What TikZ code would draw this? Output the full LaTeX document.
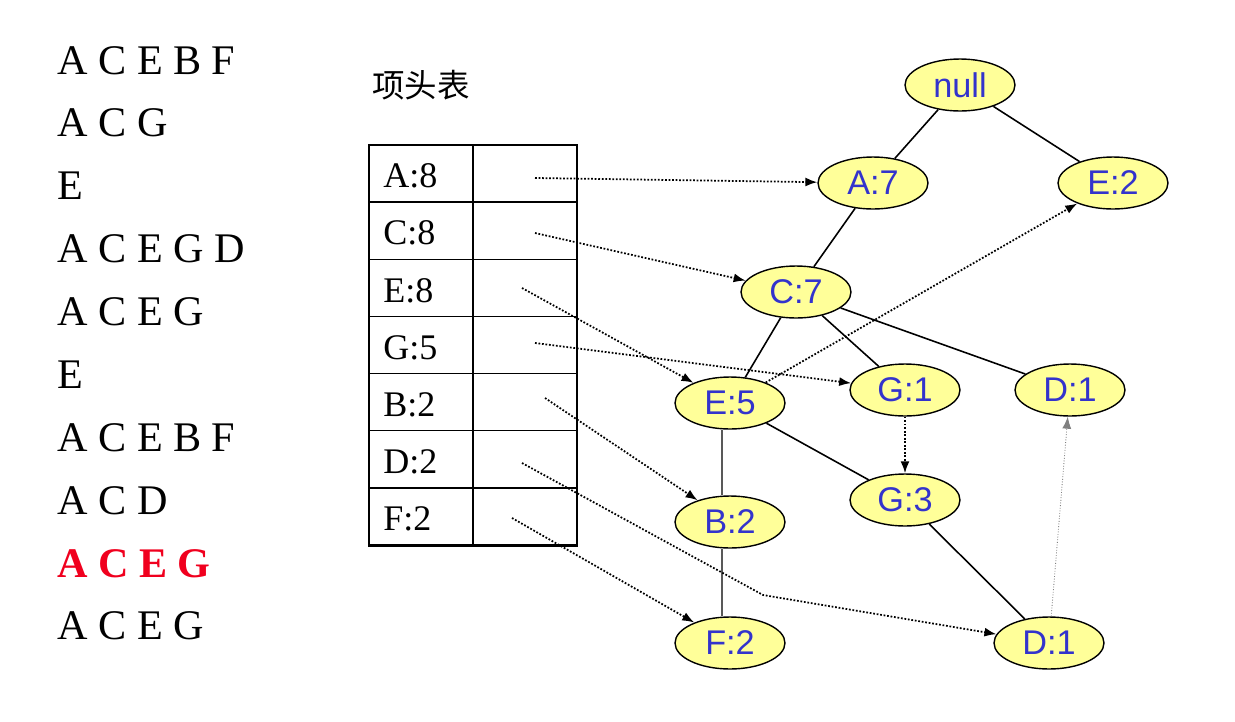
\documentclass[tikz,border=0pt]{standalone}
\usepackage{fontspec}
\setmainfont{Liberation Serif}
\newfontfamily\nodefont{Liberation Sans}
\newfontfamily\cjk{Noto Sans CJK SC}
\usetikzlibrary{shapes.geometric, arrows.meta, positioning}
\definecolor{nodeyellow}{RGB}{255,255,153}
\definecolor{nodeblue}{RGB}{51,51,204}
\definecolor{rowred}{RGB}{240,0,30}

\begin{document}
\begin{tikzpicture}[x=0.02cm, y=-0.02cm,
    tnode/.style={ellipse, draw, line width=0.8pt, fill=nodeyellow, minimum width=2.2cm, minimum height=1.04cm, inner sep=0pt, text=nodeblue, font=\nodefont\fontsize{19.5}{20}\selectfont},
    branch/.style={line width=0.9pt},
    nodelink/.style={-{Latex[length=2.4mm, width=1.8mm]}, densely dotted, line width=1pt},
    txitem/.style={anchor=base west, inner sep=0pt, font=\fontsize{24}{26}\selectfont},
    cell/.style={anchor=west, inner sep=0pt, font=\fontsize{20.5}{22}\selectfont},
]
\useasboundingbox (0,0) rectangle (1235,721);

% transactions
\foreach \tx [count=\i from 0] in {A C E B F, A C G, E, A C E G D, A C E G, E, A C E B F, A C D} {
    \node[txitem] (tx\i) at (57, {74+62.9*\i}) {\tx};
}
\node[txitem, text=rowred, font=\fontsize{24}{26}\selectfont\bfseries] (tx8) at (57, 577) {A C E G};
\node[txitem] (tx9) at (57, 639) {A C E G};

% header table
\node[font=\cjk\fontsize{18.5}{20}\selectfont, inner sep=0pt] (title) at (421, 85) {项头表};
\foreach \k in {1,...,6} {
    \draw[line width=0.8pt] (369, {145+57.14*\k}) -- (577, {145+57.14*\k});
}
\draw[line width=0.8pt] (473,145) -- (473,545);
\draw[line width=1.7pt] (369,145) rectangle (577,545);
\foreach \lbl [count=\i from 0] in {A:8, C:8, E:8, G:5, B:2, D:2, F:2} {
    \node[cell] (row\i) at (383, {176+57.14*\i}) {\lbl};
}
\coordinate (pA) at (535,178);
\coordinate (pC) at (535,233);
\coordinate (pE) at (522,288);
\coordinate (pG) at (535,343);
\coordinate (pB) at (545,398);
\coordinate (pD) at (522,463);
\coordinate (pF) at (512,518);
\coordinate (bendD) at (763,595);

% FP-tree
\node[tnode] (null) at (960,85) {null};
\node[tnode] (A7) at (873,183) {A:7};
\node[tnode] (E2) at (1113,183) {E:2};
\node[tnode] (C7) at (796,292) {C:7};
\node[tnode] (E5) at (730,403) {E:5};
\node[tnode] (G1) at (905,390) {G:1};
\node[tnode] (D1a) at (1070,390) {D:1};
\node[tnode] (G3) at (905,500) {G:3};
\node[tnode] (B2) at (730,522) {B:2};
\node[tnode] (F2) at (730,643) {F:2};
\node[tnode] (D1b) at (1049,643) {D:1};

\draw[branch] (null) -- (A7);
\draw[branch] (null) -- (E2);
\draw[branch] (A7) -- (C7);
\draw[branch] (C7) -- (E5);
\draw[branch] (C7) -- (G1);
\draw[branch] (C7) -- (D1a);
\draw[branch] (E5) -- (G3);
\draw[branch] (G3) -- (D1b);
\draw[branch, line width=1.5pt, gray!70!black] ([xshift=-0.16cm]E5.south) -- ([xshift=-0.16cm]B2.north);
\draw[branch, line width=1.5pt, gray!70!black] ([xshift=-0.16cm]B2.south) -- ([xshift=-0.16cm]F2.north);

% node links
\draw[nodelink] (pA) -- (A7);
\draw[nodelink] (pC) -- (C7);
\draw[nodelink] (pE) -- (E5);
\draw[nodelink] (pG) -- (G1);
\draw[nodelink] (pB) -- (B2);
\draw[nodelink] (pD) -- (bendD) -- (D1b);
\draw[nodelink] (pF) -- (F2);
\draw[nodelink] (E5) -- (E2);
\draw[nodelink] (G1) -- (G3);
\draw[nodelink, line width=0.5pt, gray] (D1b) -- (D1a);
\end{tikzpicture}
\end{document}
